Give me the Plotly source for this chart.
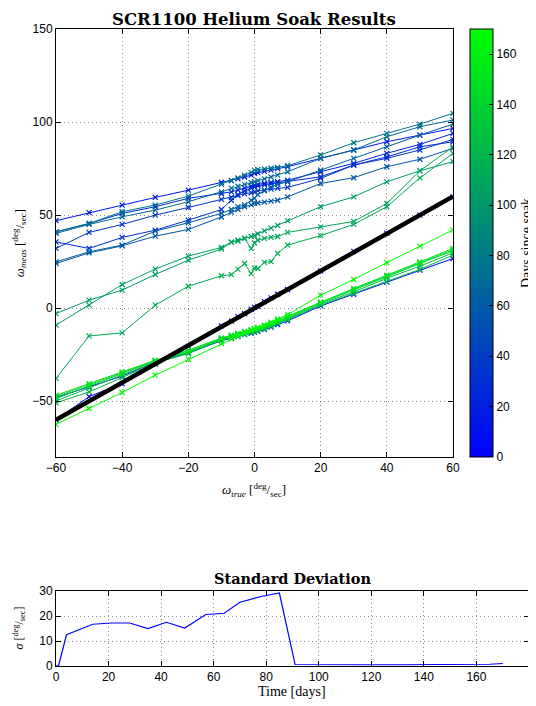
import plotly.graph_objects as go

# ---------------- data ----------------
true_rate = [-60, -50, -40, -30, -20, -10, -7, -5, -3, -1, 0, 1, 3, 5, 7, 10, 20, 30, 40, 50, 60]

soak_days = [0, 2, 14, 21, 28, 35, 57, 64, 70, 78, 115, 105, 110, 120, 125, 135, 145, 155, 170]

meas_d0 = [-60, -47.5, -40.5, -30, -20.5, -9.5, -7, -4.5, -3, -0.5, 0.5, 1, 3.5, 5.5, 7.5, 10, 20, 30.5, 40.2, 50, 59.8]
meas_d2 = [-48, -42.3, -36.5, -29, -24, -17.5, -16.2, -15.2, -14.2, -13.5, -13, -12.5, -11.5, -10.2, -8.8, -6.8, 1.2, 7.5, 14, 20.5, 26.7]
meas_d14 = [47, 51.3, 55.4, 59.5, 63.4, 67.5, 68.5, 69.5, 70.5, 71.5, 72.4, 72.8, 73.5, 74.2, 75, 76, 80.5, 85, 89.4, 93, 96.6]
meas_d21 = [41, 45.5, 50.9, 54.5, 59, 61.5, 62.5, 63.5, 64.5, 65.5, 66.1, 66.5, 67, 67.5, 68, 68.8, 73.3, 77.8, 83.2, 88, 93.9]
meas_d28 = [35.6, 32.1, 38, 41.9, 47.3, 53, 58, 61, 63, 64.5, 65.2, 65.8, 66.3, 66.8, 67.3, 67.9, 70.6, 76.9, 81.3, 86.7, 89.4]
meas_d35 = [32.1, 40.7, 45, 50, 54.1, 58.5, 59.5, 60.5, 61.5, 62, 62.5, 63, 63.5, 64, 64.5, 64.9, 69.7, 76.9, 80.5, 85, 90.7]
meas_d57 = [24, 29.7, 33.5, 38.7, 42.3, 49, 51.5, 53, 54.5, 55.5, 56.3, 56.5, 57, 57.5, 58, 59.8, 67, 70.1, 76, 80, 85.9]
meas_d64 = [24.9, 30.3, 33.9, 41.4, 45.9, 51, 53, 54.5, 55.5, 58, 59, 61, 63, 65, 66.5, 67.9, 74.2, 80.5, 86.7, 93, 98.9]
meas_d70 = [40.2, 45, 49.1, 52.7, 57.2, 62.5, 64.5, 65.5, 66.5, 67.5, 67.9, 68.5, 69.5, 70.5, 71.5, 73.3, 80.5, 85, 92.1, 97.5, 101.1]
meas_d78 = [41, 45.5, 51.8, 55.4, 60.2, 66.5, 68.5, 70, 71.5, 73, 74.2, 74.5, 74.8, 75.2, 75.6, 76.5, 82.3, 88.9, 93.9, 98.9, 104.7]
meas_d115 = [-37.8, -14.9, -13.3, 1.6, 11.8, 17.4, 18, 21, 24, 18.6, 21.6, 21.3, 24.6, 25, 29.4, 33.9, 39, 45, 54.5, 70, 83.2]
meas_d105 = [-2.9, 4.3, 9.7, 18.1, 25.8, 31.7, 35.5, 36.6, 37.5, 38.5, 39, 40, 41.5, 43, 44.5, 47, 54.5, 59.8, 67.9, 73.8, 78.7]
meas_d110 = [-9.1, 1.6, 12.7, 21, 28, 32.6, 35.5, 36, 37.5, 32, 35, 36.5, 37.5, 38, 38.5, 40.7, 43.7, 46.6, 56.3, 73.8, 86.7]
meas_d120 = [-50.9, -45, -37.3, -29.5, -24.4, -17.2, -16, -15, -14, -13.2, -12.7, -12.2, -11.2, -9.8, -8.3, -6.3, 1.6, 7.9, 14.1, 20.8, 28.5]
meas_d125 = [-49.8, -43, -36, -29, -24, -16.8, -15.5, -14.5, -13.5, -12.7, -12.2, -11.7, -10.7, -9.3, -7.8, -5.8, 2.2, 8.8, 16, 22.6, 29.7]
meas_d135 = [-48.5, -41.9, -35.2, -28.5, -23.5, -16.5, -15, -14, -13, -12.2, -11.7, -11.2, -10.2, -8.8, -7.3, -5.3, 2.8, 9.7, 16.8, 24, 30.8]
meas_d145 = [-46.8, -40.5, -34.2, -28, -22.6, -16, -14.5, -13.5, -12.5, -11.5, -11, -10.5, -9.5, -8, -6.5, -4.5, 3.4, 10.6, 17.7, 24.9, 32.1]
meas_d155 = [-47.5, -41, -34.8, -28.3, -23, -16.3, -14.8, -13.8, -12.8, -11.9, -11.4, -10.9, -9.9, -8.4, -6.9, -4.9, 3.1, 10.2, 17.2, 24.4, 31.4]
meas_d170 = [-62.4, -53.9, -45.3, -36, -27.6, -19, -16.5, -15, -13.5, -12, -11, -10.3, -9, -7.5, -5.8, -3.5, 7, 15.4, 24.4, 33.3, 42]

all_meas = [meas_d0, meas_d2, meas_d14, meas_d21, meas_d28, meas_d35, meas_d57, meas_d64, meas_d70,
            meas_d78, meas_d115, meas_d105, meas_d110, meas_d120, meas_d125, meas_d135, meas_d145,
            meas_d155, meas_d170]

ideal_x = [-60, 60]
ideal_y = [-60, 60]

sd_days = [0, 1, 4, 14, 21, 28, 35, 42, 49, 57, 64, 70, 78, 85, 91, 100, 110, 120, 130, 140, 150, 160, 165, 170]
sd_vals = [0, 0.2, 12.5, 16.7, 17.2, 17.2, 15.0, 17.5, 15.2, 20.6, 21.1, 25.5, 27.8, 29.2, 0.6, 0.5, 0.5, 0.5, 0.5, 0.5, 0.5, 0.6, 0.7, 1.0]

day_max = 170

# ---------------- figure ----------------
SANS = "Liberation Sans, Arial, sans-serif"
SERIF = "Liberation Serif, DejaVu Serif, serif"
WIDE_SERIF = "DejaVu Serif, Liberation Serif, serif"


def day_color(d):
    t = d / day_max
    return "rgb(0,%d,%d)" % (round(255 * t), round(255 * (1 - t)))


fig = go.Figure()

for d, m in zip(soak_days, all_meas):
    c = day_color(d)
    fig.add_trace(go.Scatter(
        x=true_rate, y=m, mode="lines+markers",
        line=dict(color=c, width=1),
        marker=dict(symbol="x-thin", size=5, line=dict(color=c, width=1.2)),
        showlegend=False, xaxis="x", yaxis="y",
    ))

fig.add_trace(go.Scatter(
    x=ideal_x, y=ideal_y, mode="lines",
    line=dict(color="black", width=4.5),
    showlegend=False, xaxis="x", yaxis="y",
))

# colorbar carrier
fig.add_trace(go.Scatter(
    x=[None], y=[None], mode="markers",
    marker=dict(color=[0], cmin=0, cmax=day_max,
                colorscale=[[0, "rgb(0,0,255)"], [1, "rgb(0,255,0)"]],
                showscale=True,
                colorbar=dict(
                    x=0.875, xanchor="left", xref="paper",
                    y=1, yanchor="top", len=0.672, lenmode="fraction",
                    thickness=23, thicknessmode="pixels", xpad=0, ypad=0,
                    outlinewidth=1, outlinecolor="black",
                    tickmode="array", tickvals=[0, 20, 40, 60, 80, 100, 120, 140, 160],
                    ticks="inside", ticklen=4, tickcolor="black",
                    tickfont=dict(family=SANS, size=12, color="black"),
                    title=dict(text="Days since soak", side="right",
                               font=dict(family=SERIF, size=14, color="black")),
                )),
    showlegend=False, xaxis="x", yaxis="y", hoverinfo="skip",
))

fig.add_trace(go.Scatter(
    x=sd_days, y=sd_vals, mode="lines",
    line=dict(color="rgb(0,0,255)", width=1.2),
    showlegend=False, xaxis="x2", yaxis="y2",
))

axis_common = dict(
    showline=True, linecolor="black", linewidth=1, mirror="ticks",
    ticks="inside", ticklen=5, tickcolor="black",
    showgrid=True, gridcolor="rgba(0,0,0,0.45)", gridwidth=1, griddash="1px,3px",
    zeroline=False,
    tickfont=dict(family=SANS, size=12, color="black"),
)

fig.update_layout(
    width=528, height=698,
    margin=dict(l=48, r=7, t=21, b=40, autoexpand=False),
    paper_bgcolor="white", plot_bgcolor="white",
    xaxis=dict(domain=[0, 0.8393], range=[-60, 60], tickmode="array",
               tickvals=[-60, -40, -20, 0, 20, 40, 60], anchor="y", **axis_common),
    yaxis=dict(domain=[0.328, 1], range=[-80, 150], tickmode="array",
               tickvals=[-50, 0, 50, 100, 150], anchor="x", **axis_common),
    xaxis2=dict(domain=[0, 1], range=[0, 180], tickmode="array",
                tickvals=[0, 20, 40, 60, 80, 100, 120, 140, 160, 180], anchor="y2", **axis_common),
    yaxis2=dict(domain=[0, 0.1177], range=[0, 30], tickmode="array",
                tickvals=[0, 10, 20, 30], anchor="x2", **axis_common),
    annotations=[
        dict(text="<b>SCR1100 Helium Soak Results</b>", x=0.419, y=1.0325, xref="paper", yref="paper",
             xanchor="center", yanchor="top", showarrow=False,
             font=dict(family=WIDE_SERIF, size=16.5, color="black")),
        dict(text="<i>ω<sub>true</sub></i> [<sup>deg</sup>/<sub>sec</sub>]", x=0.419, y=0.276,
             xref="paper", yref="paper", xanchor="center", yanchor="middle", showarrow=False,
             font=dict(family=SERIF, size=13, color="black")),
        dict(text="<i>ω<sub>meas</sub></i> [<sup>deg</sup>/<sub>sec</sub>]", x=-0.078, y=0.664,
             xref="paper", yref="paper", xanchor="center", yanchor="middle", showarrow=False,
             textangle=-90, font=dict(family=SERIF, size=13, color="black")),
        dict(text="<b>Standard Deviation</b>", x=0.499, y=0.138, xref="paper", yref="paper",
             xanchor="center", yanchor="middle", showarrow=False,
             font=dict(family=WIDE_SERIF, size=14.5, color="black")),
        dict(text="Time [days]", x=0.499, y=-0.04, xref="paper", yref="paper",
             xanchor="center", yanchor="middle", showarrow=False,
             font=dict(family=SERIF, size=14, color="black")),
        dict(text="<i>σ</i> [<sup>deg</sup>/<sub>sec</sub>]", x=-0.078, y=0.059,
             xref="paper", yref="paper", xanchor="center", yanchor="middle", showarrow=False,
             textangle=-90, font=dict(family=SERIF, size=12, color="black")),
    ],
)

fig.write_html("out.html")
